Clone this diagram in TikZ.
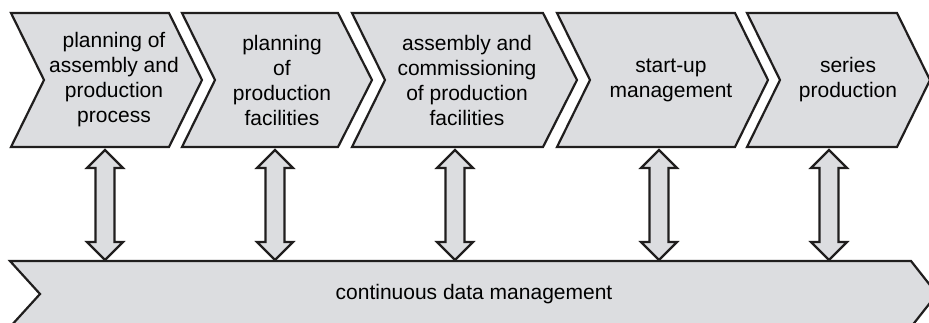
\documentclass[tikz,border=0pt]{standalone}
\usepackage{fontspec}
\setmainfont{Liberation Sans}
\usetikzlibrary{calc}
\definecolor{boxfill}{RGB}{220,221,224}
\definecolor{edgecol}{RGB}{32,30,30}
\newcommand\chevshape[3]{% left, right, tip
  \draw[shapebox] (#1,13) -- (#2,13) -- (#3,80) -- (#2,147) -- (#1,147) -- ({#1+33},80) -- cycle;}
\newcommand\dblarrow[2]{%
  \draw[shapebox] (#1) -- ++(18,18) -- ++(-8.5,0) -- ($(#2)+(9.5,-18)$) -- ++(8.5,0) -- (#2)
    -- ++(-18,-18) -- ++(8.5,0) -- ($(#1)+(-9.5,18)$) -- ++(-8.5,0) -- cycle;}
\begin{document}
\begin{tikzpicture}[x=1pt,y=-1pt,
  shapebox/.style={fill=boxfill,draw=edgecol,line width=2.2pt,line join=miter},
  lbl/.style={font=\fontsize{21}{25}\selectfont, align=center, text=black, inner sep=0pt}]
\useasboundingbox (0,0) rectangle (929,322);
\begin{scope}
\clip (0,0) rectangle (929,322);
% chevrons
\chevshape{11}{169}{202}
\chevshape{182}{338}{372}
\chevshape{352}{543}{577}
\chevshape{557}{735}{768}
\chevshape{747}{897}{930}
\node[lbl] (c1) at (114,80) {planning of\\assembly and\\production\\process};
\node[lbl] (c2) at (282,80) {planning\\of\\production\\facilities};
\node[lbl] (c3) at (467,80) {assembly and\\commissioning\\of production\\facilities};
\node[lbl] (c4) at (671,80) {start-up\\management};
\node[lbl] (c5) at (848,80) {series\\production};
% bar
\draw[shapebox] (10,261) -- (911,261) -- (937,294) -- (911,327) -- (10,327) -- (40,294) -- cycle;
\node[lbl] (bar) at (474,294) {continuous data management};
% arrow end points
\coordinate (t1) at (105,150); \coordinate (b1) at (105,260);
\coordinate (t2) at (275,150); \coordinate (b2) at (275,260);
\coordinate (t3) at (455,150); \coordinate (b3) at (455,260);
\coordinate (t4) at (659,150); \coordinate (b4) at (659,260);
\coordinate (t5) at (829,150); \coordinate (b5) at (829,260);
\dblarrow{t1}{b1}
\dblarrow{t2}{b2}
\dblarrow{t3}{b3}
\dblarrow{t4}{b4}
\dblarrow{t5}{b5}
\end{scope}
\end{tikzpicture}
\end{document}
